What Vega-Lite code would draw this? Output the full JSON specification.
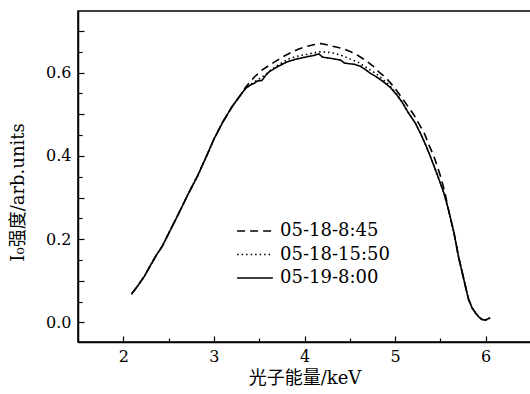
{
  "$schema": "https://vega.github.io/schema/vega-lite/v6.json",
  "autosize": {"type": "none"},
  "padding": {"left": 78, "top": 11, "right": 0, "bottom": 52},
  "width": 453,
  "height": 331,
  "background": "white",
  "config": {
    "view": {"stroke": "black", "strokeWidth": 1.5},
    "font": "DejaVu Serif, Noto Sans CJK SC",
    "axis": {"grid": false, "domainColor": "black", "domainWidth": 1.5, "tickColor": "black", "tickWidth": 1.2, "labelColor": "black", "titleColor": "black", "labelFont": "DejaVu Serif", "labelFontSize": 16, "titleFont": "DejaVu Serif, Noto Sans CJK SC", "titleFontSize": 18, "titleFontWeight": "normal"}
  },
  "datasets": {
    "pts": [
      {"s": "05-18-8:45", "x": 2.09, "y": 0.068}, {"s": "05-18-8:45", "x": 2.15, "y": 0.085}, {"s": "05-18-8:45", "x": 2.23, "y": 0.110}, {"s": "05-18-8:45", "x": 2.30, "y": 0.137}, {"s": "05-18-8:45", "x": 2.36, "y": 0.160}, {"s": "05-18-8:45", "x": 2.43, "y": 0.183}, {"s": "05-18-8:45", "x": 2.52, "y": 0.222}, {"s": "05-18-8:45", "x": 2.58, "y": 0.248}, {"s": "05-18-8:45", "x": 2.63, "y": 0.270}, {"s": "05-18-8:45", "x": 2.72, "y": 0.310}, {"s": "05-18-8:45", "x": 2.82, "y": 0.352}, {"s": "05-18-8:45", "x": 2.93, "y": 0.405}, {"s": "05-18-8:45", "x": 3.00, "y": 0.440}, {"s": "05-18-8:45", "x": 3.10, "y": 0.482}, {"s": "05-18-8:45", "x": 3.20, "y": 0.518}, {"s": "05-18-8:45", "x": 3.30, "y": 0.548},
      {"s": "05-18-8:45", "x": 3.35, "y": 0.565}, {"s": "05-18-8:45", "x": 3.40, "y": 0.578}, {"s": "05-18-8:45", "x": 3.45, "y": 0.590}, {"s": "05-18-8:45", "x": 3.53, "y": 0.606}, {"s": "05-18-8:45", "x": 3.60, "y": 0.616}, {"s": "05-18-8:45", "x": 3.68, "y": 0.627}, {"s": "05-18-8:45", "x": 3.76, "y": 0.638}, {"s": "05-18-8:45", "x": 3.85, "y": 0.648}, {"s": "05-18-8:45", "x": 3.93, "y": 0.656}, {"s": "05-18-8:45", "x": 4.01, "y": 0.662}, {"s": "05-18-8:45", "x": 4.10, "y": 0.667}, {"s": "05-18-8:45", "x": 4.18, "y": 0.670}, {"s": "05-18-8:45", "x": 4.26, "y": 0.666}, {"s": "05-18-8:45", "x": 4.36, "y": 0.661}, {"s": "05-18-8:45", "x": 4.43, "y": 0.657}, {"s": "05-18-8:45", "x": 4.51, "y": 0.650}, {"s": "05-18-8:45", "x": 4.59, "y": 0.641}, {"s": "05-18-8:45", "x": 4.67, "y": 0.630}, {"s": "05-18-8:45", "x": 4.75, "y": 0.617}, {"s": "05-18-8:45", "x": 4.82, "y": 0.602}, {"s": "05-18-8:45", "x": 4.90, "y": 0.587}, {"s": "05-18-8:45", "x": 4.97, "y": 0.570}, {"s": "05-18-8:45", "x": 5.03, "y": 0.553}, {"s": "05-18-8:45", "x": 5.09, "y": 0.535}, {"s": "05-18-8:45", "x": 5.15, "y": 0.516}, {"s": "05-18-8:45", "x": 5.21, "y": 0.498}, {"s": "05-18-8:45", "x": 5.26, "y": 0.478}, {"s": "05-18-8:45", "x": 5.32, "y": 0.456}, {"s": "05-18-8:45", "x": 5.37, "y": 0.428}, {"s": "05-18-8:45", "x": 5.43, "y": 0.398}, {"s": "05-18-8:45", "x": 5.50, "y": 0.352}, {"s": "05-18-8:45", "x": 5.55, "y": 0.312}, {"s": "05-18-8:45", "x": 5.59, "y": 0.270}, {"s": "05-18-8:45", "x": 5.65, "y": 0.215}, {"s": "05-18-8:45", "x": 5.70, "y": 0.158}, {"s": "05-18-8:45", "x": 5.76, "y": 0.102}, {"s": "05-18-8:45", "x": 5.81, "y": 0.056}, {"s": "05-18-8:45", "x": 5.85, "y": 0.035}, {"s": "05-18-8:45", "x": 5.89, "y": 0.022}, {"s": "05-18-8:45", "x": 5.93, "y": 0.012}, {"s": "05-18-8:45", "x": 5.96, "y": 0.007}, {"s": "05-18-8:45", "x": 6.00, "y": 0.006}, {"s": "05-18-8:45", "x": 6.05, "y": 0.011},

      {"s": "05-18-15:50", "x": 2.09, "y": 0.068}, {"s": "05-18-15:50", "x": 2.15, "y": 0.085}, {"s": "05-18-15:50", "x": 2.23, "y": 0.110}, {"s": "05-18-15:50", "x": 2.30, "y": 0.137}, {"s": "05-18-15:50", "x": 2.36, "y": 0.160}, {"s": "05-18-15:50", "x": 2.43, "y": 0.183}, {"s": "05-18-15:50", "x": 2.52, "y": 0.222}, {"s": "05-18-15:50", "x": 2.58, "y": 0.248}, {"s": "05-18-15:50", "x": 2.63, "y": 0.270}, {"s": "05-18-15:50", "x": 2.72, "y": 0.310}, {"s": "05-18-15:50", "x": 2.82, "y": 0.352}, {"s": "05-18-15:50", "x": 2.93, "y": 0.405}, {"s": "05-18-15:50", "x": 3.00, "y": 0.440}, {"s": "05-18-15:50", "x": 3.10, "y": 0.482}, {"s": "05-18-15:50", "x": 3.20, "y": 0.518}, {"s": "05-18-15:50", "x": 3.30, "y": 0.548},
      {"s": "05-18-15:50", "x": 3.35, "y": 0.562}, {"s": "05-18-15:50", "x": 3.40, "y": 0.571}, {"s": "05-18-15:50", "x": 3.45, "y": 0.578}, {"s": "05-18-15:50", "x": 3.50, "y": 0.585}, {"s": "05-18-15:50", "x": 3.57, "y": 0.595}, {"s": "05-18-15:50", "x": 3.62, "y": 0.605}, {"s": "05-18-15:50", "x": 3.70, "y": 0.617}, {"s": "05-18-15:50", "x": 3.80, "y": 0.630}, {"s": "05-18-15:50", "x": 3.85, "y": 0.635}, {"s": "05-18-15:50", "x": 3.95, "y": 0.641}, {"s": "05-18-15:50", "x": 4.05, "y": 0.645}, {"s": "05-18-15:50", "x": 4.16, "y": 0.650}, {"s": "05-18-15:50", "x": 4.25, "y": 0.649}, {"s": "05-18-15:50", "x": 4.32, "y": 0.647}, {"s": "05-18-15:50", "x": 4.40, "y": 0.642}, {"s": "05-18-15:50", "x": 4.50, "y": 0.633}, {"s": "05-18-15:50", "x": 4.60, "y": 0.624}, {"s": "05-18-15:50", "x": 4.70, "y": 0.610}, {"s": "05-18-15:50", "x": 4.80, "y": 0.596}, {"s": "05-18-15:50", "x": 4.90, "y": 0.577}, {"s": "05-18-15:50", "x": 4.95, "y": 0.566}, {"s": "05-18-15:50", "x": 5.02, "y": 0.548}, {"s": "05-18-15:50", "x": 5.08, "y": 0.529}, {"s": "05-18-15:50", "x": 5.15, "y": 0.503}, {"s": "05-18-15:50", "x": 5.22, "y": 0.480}, {"s": "05-18-15:50", "x": 5.28, "y": 0.454}, {"s": "05-18-15:50", "x": 5.34, "y": 0.425}, {"s": "05-18-15:50", "x": 5.39, "y": 0.398}, {"s": "05-18-15:50", "x": 5.46, "y": 0.358}, {"s": "05-18-15:50", "x": 5.54, "y": 0.310}, {"s": "05-18-15:50", "x": 5.59, "y": 0.270}, {"s": "05-18-15:50", "x": 5.65, "y": 0.215}, {"s": "05-18-15:50", "x": 5.70, "y": 0.158}, {"s": "05-18-15:50", "x": 5.76, "y": 0.102}, {"s": "05-18-15:50", "x": 5.81, "y": 0.056}, {"s": "05-18-15:50", "x": 5.85, "y": 0.035}, {"s": "05-18-15:50", "x": 5.89, "y": 0.022}, {"s": "05-18-15:50", "x": 5.93, "y": 0.012}, {"s": "05-18-15:50", "x": 5.96, "y": 0.007}, {"s": "05-18-15:50", "x": 6.00, "y": 0.006}, {"s": "05-18-15:50", "x": 6.05, "y": 0.011},

      {"s": "05-19-8:00", "x": 2.09, "y": 0.068}, {"s": "05-19-8:00", "x": 2.15, "y": 0.085}, {"s": "05-19-8:00", "x": 2.23, "y": 0.110}, {"s": "05-19-8:00", "x": 2.30, "y": 0.137}, {"s": "05-19-8:00", "x": 2.36, "y": 0.160}, {"s": "05-19-8:00", "x": 2.43, "y": 0.183}, {"s": "05-19-8:00", "x": 2.52, "y": 0.222}, {"s": "05-19-8:00", "x": 2.58, "y": 0.248}, {"s": "05-19-8:00", "x": 2.63, "y": 0.270}, {"s": "05-19-8:00", "x": 2.72, "y": 0.310}, {"s": "05-19-8:00", "x": 2.82, "y": 0.352}, {"s": "05-19-8:00", "x": 2.93, "y": 0.405}, {"s": "05-19-8:00", "x": 3.00, "y": 0.440}, {"s": "05-19-8:00", "x": 3.10, "y": 0.482}, {"s": "05-19-8:00", "x": 3.20, "y": 0.518}, {"s": "05-19-8:00", "x": 3.30, "y": 0.548},
      {"s": "05-19-8:00", "x": 3.35, "y": 0.562}, {"s": "05-19-8:00", "x": 3.40, "y": 0.570}, {"s": "05-19-8:00", "x": 3.45, "y": 0.575}, {"s": "05-19-8:00", "x": 3.48, "y": 0.580}, {"s": "05-19-8:00", "x": 3.53, "y": 0.581}, {"s": "05-19-8:00", "x": 3.57, "y": 0.593}, {"s": "05-19-8:00", "x": 3.61, "y": 0.602}, {"s": "05-19-8:00", "x": 3.70, "y": 0.614}, {"s": "05-19-8:00", "x": 3.81, "y": 0.626}, {"s": "05-19-8:00", "x": 3.90, "y": 0.632}, {"s": "05-19-8:00", "x": 3.96, "y": 0.635}, {"s": "05-19-8:00", "x": 4.05, "y": 0.639}, {"s": "05-19-8:00", "x": 4.10, "y": 0.641}, {"s": "05-19-8:00", "x": 4.16, "y": 0.645}, {"s": "05-19-8:00", "x": 4.20, "y": 0.637}, {"s": "05-19-8:00", "x": 4.27, "y": 0.635}, {"s": "05-19-8:00", "x": 4.35, "y": 0.632}, {"s": "05-19-8:00", "x": 4.40, "y": 0.630}, {"s": "05-19-8:00", "x": 4.44, "y": 0.623}, {"s": "05-19-8:00", "x": 4.47, "y": 0.622}, {"s": "05-19-8:00", "x": 4.55, "y": 0.620}, {"s": "05-19-8:00", "x": 4.62, "y": 0.615}, {"s": "05-19-8:00", "x": 4.68, "y": 0.606}, {"s": "05-19-8:00", "x": 4.73, "y": 0.598}, {"s": "05-19-8:00", "x": 4.80, "y": 0.589}, {"s": "05-19-8:00", "x": 4.87, "y": 0.578}, {"s": "05-19-8:00", "x": 4.95, "y": 0.564}, {"s": "05-19-8:00", "x": 5.02, "y": 0.546}, {"s": "05-19-8:00", "x": 5.08, "y": 0.528}, {"s": "05-19-8:00", "x": 5.15, "y": 0.502}, {"s": "05-19-8:00", "x": 5.22, "y": 0.480}, {"s": "05-19-8:00", "x": 5.28, "y": 0.454}, {"s": "05-19-8:00", "x": 5.34, "y": 0.425}, {"s": "05-19-8:00", "x": 5.39, "y": 0.398}, {"s": "05-19-8:00", "x": 5.46, "y": 0.358}, {"s": "05-19-8:00", "x": 5.54, "y": 0.310}, {"s": "05-19-8:00", "x": 5.59, "y": 0.270}, {"s": "05-19-8:00", "x": 5.65, "y": 0.215}, {"s": "05-19-8:00", "x": 5.70, "y": 0.158}, {"s": "05-19-8:00", "x": 5.76, "y": 0.102}, {"s": "05-19-8:00", "x": 5.81, "y": 0.056}, {"s": "05-19-8:00", "x": 5.85, "y": 0.035}, {"s": "05-19-8:00", "x": 5.89, "y": 0.022}, {"s": "05-19-8:00", "x": 5.93, "y": 0.012}, {"s": "05-19-8:00", "x": 5.96, "y": 0.007}, {"s": "05-19-8:00", "x": 6.00, "y": 0.006}, {"s": "05-19-8:00", "x": 6.05, "y": 0.011}
    ]
  },
  "data": {"name": "pts"},
  "resolve": {"axis": {"x": "independent", "y": "independent"}},
  "layer": [
    {
      "mark": {"type": "line", "color": "black", "opacity": 0},
      "encoding": {
        "x": {"field": "x", "type": "quantitative", "scale": {"domain": [1.5, 6.5], "nice": false, "zero": false},
              "axis": {"orient": "bottom", "values": [1.5, 2.5, 3.5, 4.5, 5.5, 6.5], "labels": false, "title": null, "tickSize": -4, "domain": false}},
        "y": {"field": "y", "type": "quantitative", "scale": {"domain": [-0.047, 0.748], "nice": false, "zero": false},
              "axis": {"orient": "left", "values": [0.05, 0.15, 0.25, 0.35, 0.45, 0.55, 0.65], "labels": false, "title": null, "tickSize": -4, "domain": false}},
        "detail": {"field": "s"}
      }
    },
    {
      "mark": {"type": "line", "color": "black", "strokeJoin": "round"},
      "encoding": {
        "x": {"field": "x", "type": "quantitative",
              "axis": {"orient": "bottom", "values": [2, 3, 4, 5, 6], "format": "d", "tickSize": -6, "labelPadding": 12, "title": "光子能量/keV", "titlePadding": 5}},
        "y": {"field": "y", "type": "quantitative",
              "axis": {"orient": "left", "values": [0, 0.1, 0.2, 0.3, 0.4, 0.5, 0.6, 0.7], "labelExpr": "round(datum.value*10) % 2 == 0 ? format(datum.value, '.1f') : ''", "tickSize": -6, "labelPadding": 13, "title": "I₀强度/arb.units", "titleY": 181, "titleX": -51}},
        "strokeDash": {"field": "s", "type": "nominal",
                       "scale": {"domain": ["05-18-8:45", "05-18-15:50", "05-19-8:00"], "range": [[8, 5], [1.5, 3], [1, 0]]},
                       "legend": {"title": null, "orient": "none", "legendX": 167, "legendY": 210, "symbolType": "M-2,0H2", "symbolSize": 320, "symbolStrokeColor": "black", "symbolStrokeWidth": 1.6, "labelFont": "DejaVu Serif", "labelFontSize": 18, "labelColor": "black", "labelOffset": 15, "rowPadding": 4.5}},
        "strokeWidth": {"field": "s", "type": "nominal", "scale": {"domain": ["05-18-8:45", "05-18-15:50", "05-19-8:00"], "range": [1.6, 1.6, 2.3]}, "legend": null}
      }
    }
  ]
}
